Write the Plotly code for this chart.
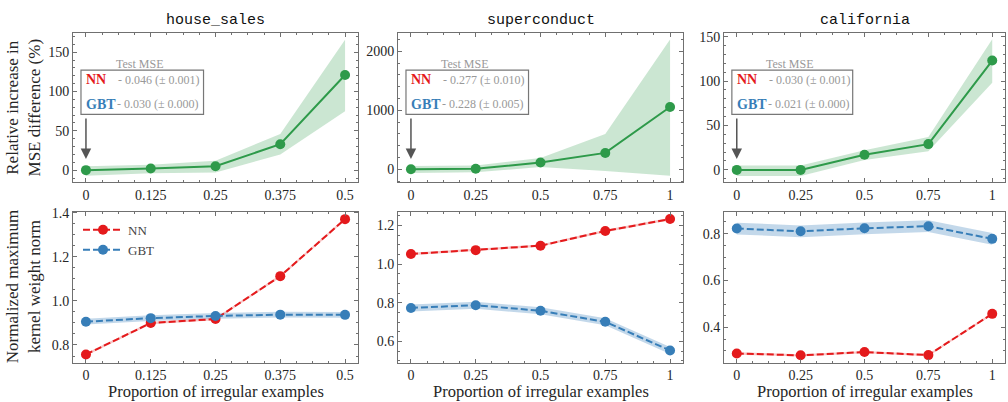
import plotly.graph_objects as go

# ---------------- data ----------------
datasets = ["house_sales", "superconduct", "california"]

hs_x = [0, 0.125, 0.25, 0.375, 0.5]
hs_xlabels = ["0", "0.125", "0.25", "0.375", "0.5"]
full_x = [0, 0.25, 0.5, 0.75, 1]
full_xlabels = ["0", "0.25", "0.5", "0.75", "1"]

# Relative increase in MSE difference (%)
hs_mse = [0, 2, 5, 33, 121]
hs_mse_lo = [-7, -4, -3, 20, 75]
hs_mse_hi = [5, 7, 12, 46, 166]

sc_mse = [0, 10, 115, 278, 1055]
sc_mse_lo = [-60, -50, 40, -30, -110]
sc_mse_hi = [55, 65, 190, 600, 2200]

ca_mse = [0, 0, 17, 29, 123]
ca_mse_lo = [-7, -7, 11, 21, 98]
ca_mse_hi = [5, 5, 22, 37, 147]

# Normalized maximum kernel weight norm
hs_nn = [0.757, 0.900, 0.918, 1.113, 1.372]
hs_nn_sd = [0.006, 0.006, 0.006, 0.006, 0.006]
hs_gbt = [0.906, 0.922, 0.932, 0.938, 0.937]
hs_gbt_sd = [0.013, 0.013, 0.013, 0.013, 0.013]

sc_nn = [1.052, 1.072, 1.095, 1.171, 1.233]
sc_nn_sd = [0.006, 0.006, 0.006, 0.006, 0.006]
sc_gbt = [0.773, 0.787, 0.758, 0.701, 0.553]
sc_gbt_sd = [0.018, 0.018, 0.018, 0.018, 0.018]

ca_nn = [0.289, 0.281, 0.295, 0.282, 0.458]
ca_nn_sd = [0.005, 0.005, 0.005, 0.005, 0.005]
ca_gbt = [0.822, 0.810, 0.823, 0.832, 0.778]
ca_gbt_sd = [0.025, 0.025, 0.025, 0.025, 0.025]

test_mse_nn = ["0.046 (± 0.001)", "0.277 (± 0.010)", "0.030 (± 0.001)"]
test_mse_gbt = ["0.030 (± 0.000)", "0.228 (± 0.005)", "0.021 (± 0.000)"]

top_yticks = [[0, 50, 100, 150], [0, 1000, 2000], [0, 50, 100, 150]]
bot_yticks = [[0.8, 1.0, 1.2, 1.4], [0.6, 0.8, 1.0, 1.2], [0.4, 0.6, 0.8]]
bot_yticklabels = [["0.8", "1.0", "1.2", "1.4"], ["0.6", "0.8", "1.0", "1.2"], ["0.4", "0.6", "0.8"]]

# ---------------- styling ----------------
GREEN = "#2e9a4a"
RED = "#e41a1c"
BLUE = "#377eb8"
GREEN_F = "rgba(46,154,74,0.25)"
RED_F = "rgba(228,26,28,0.25)"
BLUE_F = "rgba(55,126,184,0.30)"
SERIF = "Liberation Serif"
MONO = "Liberation Mono"
TXT = "#262626"
SPINE = "#707070"

W, H = 1008, 402
xdom = [(73, 358), (398, 683), (724, 1005)]
ytop = (27, 179)
ybot = (209, 362)

fig = go.Figure()

tops = [
    (hs_x, hs_mse, hs_mse_lo, hs_mse_hi),
    (full_x, sc_mse, sc_mse_lo, sc_mse_hi),
    (full_x, ca_mse, ca_mse_lo, ca_mse_hi),
]
bots = [
    (hs_x, hs_nn, hs_nn_sd, hs_gbt, hs_gbt_sd),
    (full_x, sc_nn, sc_nn_sd, sc_gbt, sc_gbt_sd),
    (full_x, ca_nn, ca_nn_sd, ca_gbt, ca_gbt_sd),
]


def band(x, lo, hi, color, xa, ya):
    return go.Scatter(
        x=list(x) + list(x)[::-1], y=list(hi) + list(lo)[::-1],
        fill="toself", fillcolor=color, line=dict(width=0),
        mode="lines", hoverinfo="skip", showlegend=False, xaxis=xa, yaxis=ya)


for i in range(3):
    xa, ya = f"x{i+1}", f"y{i+1}"
    x, m, lo, hi = tops[i]
    fig.add_trace(band(x, lo, hi, GREEN_F, xa, ya))
    fig.add_trace(go.Scatter(x=x, y=m, mode="lines+markers",
                             line=dict(color=GREEN, width=2),
                             marker=dict(color=GREEN, size=10),
                             showlegend=False, xaxis=xa, yaxis=ya))
for i in range(3):
    xa, ya = f"x{i+4}", f"y{i+4}"
    x, nn, nsd, gb, gsd = bots[i]
    fig.add_trace(band(x, [a - s for a, s in zip(nn, nsd)], [a + s for a, s in zip(nn, nsd)], RED_F, xa, ya))
    fig.add_trace(band(x, [a - s for a, s in zip(gb, gsd)], [a + s for a, s in zip(gb, gsd)], BLUE_F, xa, ya))
    fig.add_trace(go.Scatter(x=x, y=nn, mode="lines+markers", name="NN",
                             line=dict(color=RED, width=2, dash="7px,3px"),
                             marker=dict(color=RED, size=10),
                             showlegend=(i == 0), xaxis=xa, yaxis=ya))
    fig.add_trace(go.Scatter(x=x, y=gb, mode="lines+markers", name="GBT",
                             line=dict(color=BLUE, width=2, dash="7px,3px"),
                             marker=dict(color=BLUE, size=10),
                             showlegend=(i == 0), xaxis=xa, yaxis=ya))


def axis_common():
    return dict(showline=True, linecolor=SPINE, linewidth=1, mirror="allticks",
                ticks="inside", ticklen=4, tickcolor=SPINE, tickwidth=1,
                showgrid=False, zeroline=False,
                tickfont=dict(family=SERIF, size=14, color=TXT))


layout = {}
top_ranges = [[-15.5, 175], [-220, 2315], [-14, 154.5]]
bot_ranges = [[0.72, 1.405], [0.49, 1.27], [0.25, 0.893]]
top_minor = [10, 200, 10]
bot_minor = [0.05, 0.05, 0.05]
for row in range(2):
    for c in range(3):
        k = row * 3 + c + 1
        xd = [xdom[c][0] / W, xdom[c][1] / W]
        yy = ytop if row == 0 else ybot
        yd = [1 - yy[1] / H, 1 - yy[0] / H]
        if c == 0:
            xr, tv, tt, xm = [-0.025, 0.525], hs_x, hs_xlabels, 0.03125
        else:
            xr, tv, tt, xm = [-0.05, 1.05], full_x, full_xlabels, 0.0625
        xa = axis_common()
        xa.update(domain=xd, range=xr, tickvals=tv, ticktext=tt, anchor=f"y{k}",
                  minor=dict(ticks="inside", ticklen=2, tickcolor=SPINE, dtick=xm, tick0=0))
        ya = axis_common()
        if row == 0:
            ya.update(range=top_ranges[c], tickvals=top_yticks[c],
                      ticktext=[str(v) for v in top_yticks[c]],
                      minor=dict(ticks="inside", ticklen=2, tickcolor=SPINE, dtick=top_minor[c], tick0=0))
        else:
            ya.update(range=bot_ranges[c], tickvals=bot_yticks[c], ticktext=bot_yticklabels[c],
                      minor=dict(ticks="inside", ticklen=2, tickcolor=SPINE, dtick=bot_minor[c], tick0=0))
        ya.update(domain=yd, anchor=f"x{k}")
        layout["xaxis" if k == 1 else f"xaxis{k}"] = xa
        layout["yaxis" if k == 1 else f"yaxis{k}"] = ya

annotations = []
shapes = []
for c in range(3):
    cx = (xdom[c][0] + xdom[c][1]) / 2 / W
    annotations.append(dict(text=datasets[c], x=cx, y=1 - 15 / H, xref="paper", yref="paper",
                            showarrow=False, font=dict(family=MONO, size=15, color="#111"),
                            xanchor="center", yanchor="middle"))
    annotations.append(dict(text="Proportion of irregular examples", x=cx, y=1 - 391 / H,
                            xref="paper", yref="paper", showarrow=False,
                            font=dict(family=SERIF, size=16.5, color=TXT),
                            xanchor="center", yanchor="middle"))
    xr = "x domain" if c == 0 else f"x{c+1} domain"
    yr = "y domain" if c == 0 else f"y{c+1} domain"
    shapes.append(dict(type="rect", xref=xr, yref=yr, x0=0.028, x1=0.458, y0=0.454, y1=0.75,
                       line=dict(color="#777777", width=1.2), fillcolor="white", layer="above"))
    annotations.append(dict(text="Test MSE", xref=xr, yref=yr, x=0.235, y=0.79,
                            showarrow=False, font=dict(family=SERIF, size=12, color="#999999"),
                            xanchor="center", yanchor="middle"))
    annotations.append(dict(text="<b>NN</b>", xref=xr, yref=yr, x=0.038, y=0.685,
                            showarrow=False, font=dict(family=SERIF, size=14, color=RED),
                            xanchor="left", yanchor="middle"))
    annotations.append(dict(text="<b>GBT</b>", xref=xr, yref=yr, x=0.038, y=0.52,
                            showarrow=False, font=dict(family=SERIF, size=14, color=BLUE),
                            xanchor="left", yanchor="middle"))
    annotations.append(dict(text="- " + test_mse_nn[c], xref=xr, yref=yr, x=0.152, y=0.685,
                            showarrow=False, font=dict(family=SERIF, size=12, color="#999999"),
                            xanchor="left", yanchor="middle"))
    annotations.append(dict(text="- " + test_mse_gbt[c], xref=xr, yref=yr, x=0.148, y=0.52,
                            showarrow=False, font=dict(family=SERIF, size=12, color="#999999"),
                            xanchor="left", yanchor="middle"))
    xdata = "x" if c == 0 else f"x{c+1}"
    annotations.append(dict(text="", x=0, xref=xdata, y=0.155, yref=yr, ax=0, ay=-42,
                            showarrow=True, arrowhead=2, arrowsize=1.4, arrowwidth=1.5,
                            arrowcolor="#555555"))

annotations.append(dict(text="Relative increase in<br>MSE difference (%)", x=23 / W,
                        y=1 - (ytop[0] + ytop[1]) / 2 / H, xref="paper", yref="paper",
                        textangle=-90, showarrow=False, font=dict(family=SERIF, size=17, color=TXT),
                        xanchor="center", yanchor="middle"))
annotations.append(dict(text="Normalized maximum<br>kernel weight norm", x=23 / W,
                        y=1 - (ybot[0] + ybot[1]) / 2 / H, xref="paper", yref="paper",
                        textangle=-90, showarrow=False, font=dict(family=SERIF, size=17, color=TXT),
                        xanchor="center", yanchor="middle"))

fig.update_layout(
    width=W, height=H, margin=dict(l=0, r=0, t=0, b=0),
    paper_bgcolor="white", plot_bgcolor="white",
    annotations=annotations, shapes=shapes,
    legend=dict(x=78 / W, y=1 - 212 / H, xanchor="left", yanchor="top",
                bgcolor="rgba(0,0,0,0)", font=dict(family=SERIF, size=13, color="#444"),
                tracegroupgap=0, itemwidth=40),
    **layout,
)

fig.write_html("out.html")
